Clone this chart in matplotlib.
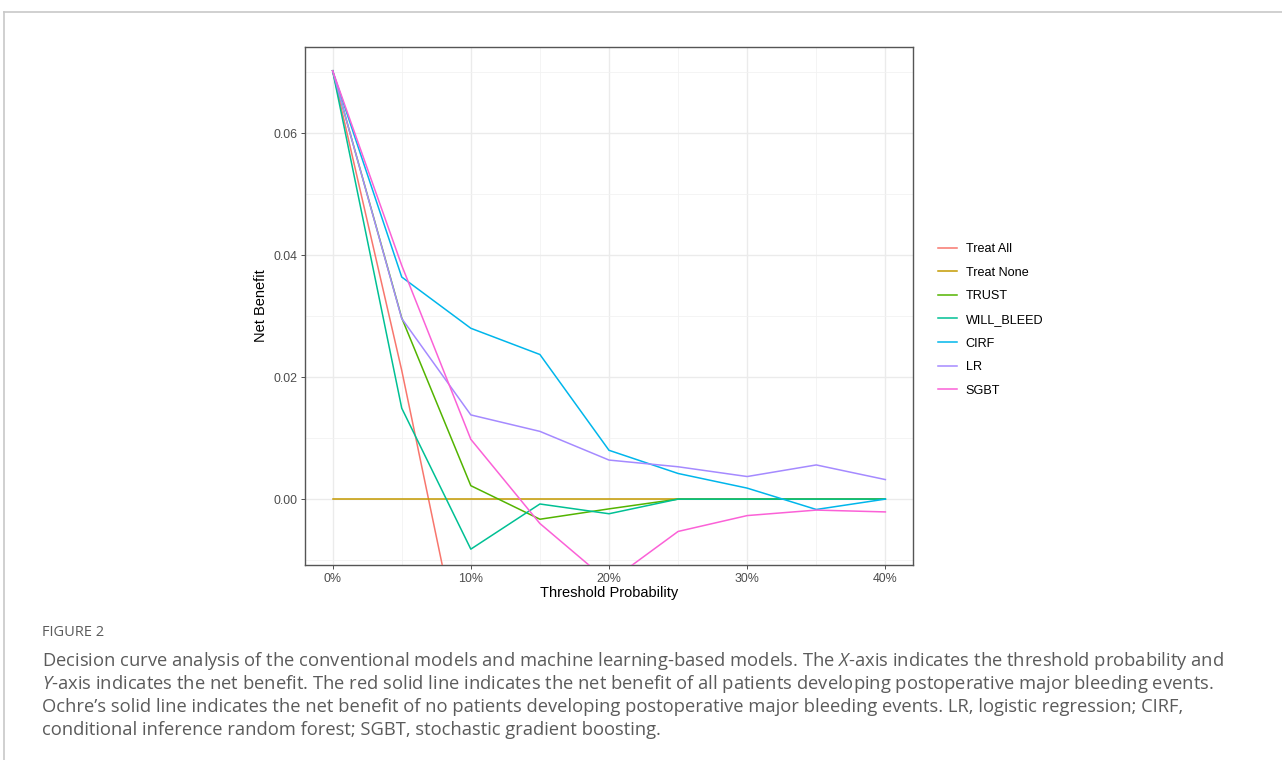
import matplotlib
matplotlib.use("Agg")
import matplotlib.pyplot as plt
from matplotlib.lines import Line2D
from matplotlib.ticker import FuncFormatter, MultipleLocator

plt.rcParams['font.family'] = ['Liberation Sans', 'DejaVu Sans']
plt.rcParams['mathtext.fontset'] = 'custom'
plt.rcParams['mathtext.it'] = 'Open Sans:italic'
plt.rcParams['mathtext.rm'] = 'Open Sans'

# threshold probabilities
thresholds = [0.00, 0.05, 0.10, 0.15, 0.20, 0.25, 0.30, 0.35, 0.40]

# net benefit per model
treat_all = [0.0702, 0.0211, -0.0333, -0.0941, -0.1625, -0.2400, -0.3286, -0.4306, -0.5500]
treat_none = [0, 0, 0, 0, 0, 0, 0, 0, 0]
trust = [0.0702, 0.0297, 0.0022, -0.0033, -0.0016, 0.0, 0.0, 0.0, 0.0]
will_bleed = [0.0702, 0.0149, -0.0082, -0.0008, -0.0024, 0.0, 0.0, 0.0, 0.0]
cirf = [0.0702, 0.0364, 0.0280, 0.0237, 0.0080, 0.0042, 0.0018, -0.0017, 0.0]
lr = [0.0702, 0.0296, 0.0138, 0.0111, 0.0064, 0.0053, 0.0037, 0.0056, 0.0032]
sgbt = [0.0702, 0.0383, 0.0098, -0.0040, -0.0136, -0.0053, -0.0027, -0.0018, -0.0021]

labels = ['Treat All', 'Treat None', 'TRUST', 'WILL_BLEED', 'CIRF', 'LR', 'SGBT']
series = [treat_all, treat_none, trust, will_bleed, cirf, lr, sgbt]
colors = ['#F8766D', '#C49A00', '#53B400', '#00C094', '#00B6EB', '#A58AFF', '#FB61D7']

fig = plt.figure(figsize=(12.82, 7.60), dpi=100)
W, H = 1282, 760

# page frame
fig.add_artist(Line2D([4 / W, 1], [1 - 12 / H, 1 - 12 / H], color='#c8c8c8', lw=1.2))
fig.add_artist(Line2D([4 / W, 4 / W], [0, 1 - 12 / H], color='#c8c8c8', lw=1.2))

ax = fig.add_axes([305 / W, 1 - 565 / H, 608 / W, 518 / H])
for vals, lab, col in zip(series, labels, colors):
    ax.plot(thresholds, vals, color=col, lw=1.1, label=lab, zorder=3)

ax.set_xlim(-0.02, 0.42)
ax.set_ylim(-0.0108, 0.0741)
ax.xaxis.set_major_locator(MultipleLocator(0.10))
ax.xaxis.set_minor_locator(MultipleLocator(0.05))
ax.yaxis.set_major_locator(MultipleLocator(0.02))
ax.yaxis.set_minor_locator(MultipleLocator(0.01))
ax.xaxis.set_major_formatter(FuncFormatter(lambda v, p: '%d%%' % round(v * 100)))
ax.yaxis.set_major_formatter(FuncFormatter(lambda v, p: '%.2f' % v))
ax.grid(which='major', color='#EBEBEB', lw=1.0, zorder=0)
ax.grid(which='minor', color='#F2F2F2', lw=0.6, zorder=0)
ax.set_axisbelow(True)
ax.tick_params(which='major', length=3, width=0.6, color='#333333', labelsize=8.9,
               labelcolor='#4D4D4D', pad=2.5)
ax.tick_params(which='minor', length=0)
for s in ax.spines.values():
    s.set_color('#555555')
    s.set_linewidth(1.0)
ax.set_xlabel('Threshold Probability', fontsize=10.5, labelpad=1)
ax.set_ylabel('Net Benefit', fontsize=10.5, labelpad=4)

handles = [Line2D([], [], color=c, lw=1.1) for c in colors]
fig.legend(handles, labels, loc='upper left', bbox_to_anchor=(938 / W, 1 - 243 / H),
           frameon=False, fontsize=9.1, handlelength=1.5, handletextpad=0.7,
           labelspacing=0.92, borderaxespad=0, borderpad=0)

# caption
cap_color = '#5b5b5b'
fig.text(42 / W, 1 - 633 / H, 'FIGURE 2', fontsize=10.5, color=cap_color,
         family='Open Sans', va='center')
lines = [
    'Decision curve analysis of the conventional models and machine learning-based models. The $\\it{X}$-axis indicates the threshold probability and',
    '$\\it{Y}$-axis indicates the net benefit. The red solid line indicates the net benefit of all patients developing postoperative major bleeding events.',
    'Ochre\u2019s solid line indicates the net benefit of no patients developing postoperative major bleeding events. LR, logistic regression; CIRF,',
    'conditional inference random forest; SGBT, stochastic gradient boosting.',
]
for i, t in enumerate(lines):
    fig.text(42 / W, 1 - (661 + 23 * i) / H, t, fontsize=13.2, color=cap_color,
             family='Open Sans', va='center')

plt.savefig('out.png', dpi=100)
